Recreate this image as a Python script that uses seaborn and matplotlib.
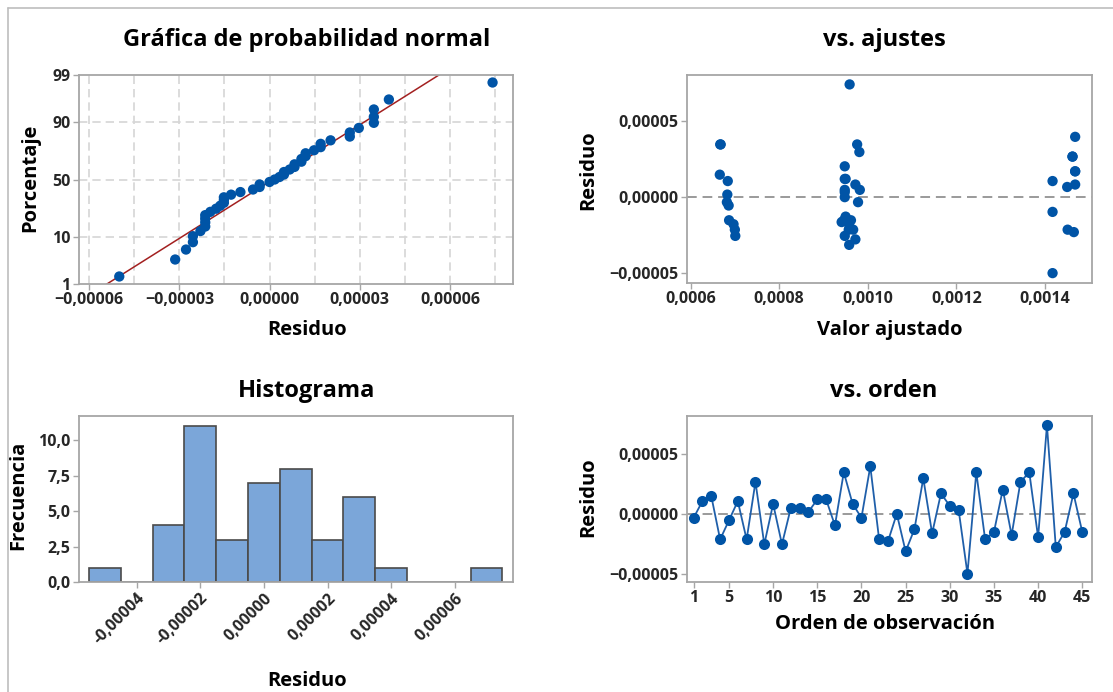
import numpy as np
import pandas as pd
import matplotlib
matplotlib.use("Agg")
import matplotlib.pyplot as plt
import seaborn as sns
from matplotlib.ticker import FuncFormatter, FixedLocator, MultipleLocator
from matplotlib.lines import Line2D
from statistics import NormalDist

# ---------------- data ----------------
observation = list(range(1, 46))
residuals = [
    -3.3e-6, 1.06e-5, 1.48e-5, -2.14e-5, -5.5e-6, 1.06e-5, -2.14e-5, 2.67e-5, -2.55e-5, 8.3e-6,
    -2.55e-5, 4.8e-6, 4.8e-6, 1.7e-6, 1.2e-5, 1.2e-5, -9.7e-6, 3.47e-5, 8.3e-6, -3.3e-6,
    3.97e-5, -2.14e-5, -2.3e-5, 0.0, -3.14e-5, -1.28e-5, 2.97e-5, -1.64e-5, 1.7e-5, 6.7e-6,
    3.3e-6, -5.0e-5, 3.47e-5, -2.14e-5, -1.52e-5, 2.03e-5, -1.78e-5, 2.67e-5, 3.47e-5, -1.97e-5,
    7.42e-5, -2.78e-5, -1.52e-5, 1.7e-5, -1.52e-5,
]
fitted = [
    0.000682, 0.000684, 0.000666, 0.000700, 0.000686, 0.001417, 0.000967, 0.001462, 0.000701, 0.000972,
    0.000948, 0.000948, 0.000982, 0.000683, 0.000948, 0.000950, 0.001417, 0.000667, 0.001468, 0.000978,
    0.001468, 0.000957, 0.001465, 0.000948, 0.000958, 0.000950, 0.000981, 0.000941, 0.001468, 0.001450,
    0.000948, 0.001417, 0.000668, 0.001451, 0.000962, 0.000948, 0.000697, 0.001462, 0.000976, 0.000959,
    0.000959, 0.000972, 0.000687, 0.001468, 0.000946,
]
prob_ticks = [1, 10, 50, 90, 99]
order_ticks = [1, 5, 10, 15, 20, 25, 30, 35, 40, 45]
hist_bin_width = 1e-5
hist_first_edge = -5.5e-5
hist_last_edge = 7.5e-5

df = pd.DataFrame({"obs": observation, "resid": residuals, "fit": fitted})

# ---------------- style ----------------
sns.set_theme(style="white")
plt.rcParams["font.family"] = ["Open Sans", "DejaVu Sans"]
plt.rcParams["font.weight"] = "bold"

BLUE = "#0054A6"
LINE_BLUE = "#1F5FAA"
RED = "#A32020"
SPINE = "#A6A6A6"
GRID = "#D6D6D6"
BAR = "#7BA6D9"
TICK_FS = 11.5
LAB_FS = 14.5
TITLE_FS = 17
MS = 55

W, H = 1113, 692
fig = plt.figure(figsize=(W / 100, H / 100), dpi=100)


def axes_px(left, top, right, bottom):
    return fig.add_axes([left / W, 1 - bottom / H, (right - left) / W, (bottom - top) / H])


def style_axes(ax):
    for s in ax.spines.values():
        s.set_color(SPINE)
        s.set_linewidth(1.3)
    ax.tick_params(axis="both", which="both", direction="out", color=SPINE, length=4, width=1,
                   labelsize=TICK_FS, pad=2, bottom=True, left=True)
    for lab in ax.get_xticklabels() + ax.get_yticklabels():
        lab.set_fontweight("bold")
    ax.set_xlabel("")
    ax.set_ylabel("")


def comma_fmt(decimals, minus="\u2212"):
    def f(v, pos):
        if abs(v) < 1e-12:
            v = 0.0
        s = f"{v:.{decimals}f}".replace(".", ",")
        return s.replace("-", minus)
    return FuncFormatter(f)


ax1 = axes_px(79, 75, 513, 284)
ax2 = axes_px(687, 75, 1092, 283)
ax3 = axes_px(79, 416, 513, 582)
ax4 = axes_px(687, 416, 1092, 582)

# ---------------- normal probability plot ----------------
nd = NormalDist()
n = len(residuals)
sorted_res = np.sort(np.array(residuals))
ranks = np.arange(1, n + 1)
zq = np.array([nd.inv_cdf((i - 0.3) / (n + 0.4)) for i in ranks])
mu = float(np.mean(residuals))
sd = float(np.std(residuals, ddof=1))
zline = np.linspace(-2.8, 2.8, 200)
line_df = pd.DataFrame({"x": mu + sd * zline, "z": zline})
sns.lineplot(data=line_df, x="x", y="z", ax=ax1, color=RED, lw=1.1, sort=False, zorder=2)
sns.scatterplot(x=sorted_res, y=zq, ax=ax1, color=BLUE, s=MS, edgecolor="none", zorder=3)
zt = [nd.inv_cdf(p / 100) for p in prob_ticks]
ax1.set_ylim(zt[0], zt[-1])
ax1.set_xlim(-6.34e-5, 8.1e-5)
ax1.yaxis.set_major_locator(FixedLocator(zt))
ax1.yaxis.set_major_formatter(FuncFormatter(lambda v, pos: str(prob_ticks[pos]) if pos is not None and pos < len(prob_ticks) else ""))
ax1.xaxis.set_major_locator(MultipleLocator(3e-5))
ax1.xaxis.set_minor_locator(MultipleLocator(1.5e-5))
ax1.xaxis.set_major_formatter(comma_fmt(5))
for zv in zt[1:-1]:
    ax1.axhline(zv, color=GRID, ls=(0, (5, 3)), lw=1.2, zorder=1)
for xv in np.arange(-6e-5, 8.0e-5, 1.5e-5):
    ax1.axvline(xv, color=GRID, ls=(0, (5, 3)), lw=1.2, zorder=1)
style_axes(ax1)
ax1.tick_params(axis="x", which="minor", length=0)

# ---------------- versus fits ----------------
sns.scatterplot(data=df, x="fit", y="resid", ax=ax2, color=BLUE, s=MS, edgecolor="none", zorder=3)
ax2.axhline(0, color="#9A9A9A", ls=(0, (5, 3)), lw=1.4, zorder=1)
ax2.set_xlim(0.000592, 0.001506)
ax2.set_ylim(-5.65e-5, 8.04e-5)
ax2.xaxis.set_major_locator(MultipleLocator(0.0002))
ax2.xaxis.set_major_formatter(comma_fmt(4))
ax2.yaxis.set_major_locator(MultipleLocator(5e-5))
ax2.yaxis.set_major_formatter(comma_fmt(5))
style_axes(ax2)

# ---------------- histogram ----------------
edges = np.arange(hist_first_edge, hist_last_edge + hist_bin_width / 2, hist_bin_width)
sns.histplot(x=residuals, bins=edges, ax=ax3, color=BAR, alpha=1.0, edgecolor="#4A4A4A", linewidth=1.2)
ax3.set_xlim(-5.81e-5, 7.83e-5)
ax3.set_ylim(0, 11.72)
ax3.xaxis.set_major_locator(FixedLocator([-4e-5, -2e-5, 0, 2e-5, 4e-5, 6e-5]))
ax3.xaxis.set_major_formatter(comma_fmt(5, minus="-"))
ax3.yaxis.set_major_locator(MultipleLocator(2.5))
ax3.yaxis.set_major_formatter(comma_fmt(1))
style_axes(ax3)
for lab in ax3.get_xticklabels():
    lab.set_rotation(45)
    lab.set_ha("right")
    lab.set_rotation_mode("anchor")

# ---------------- versus order ----------------
sns.lineplot(data=df, x="obs", y="resid", ax=ax4, color=LINE_BLUE, lw=1.3, marker="o",
             markersize=8, markeredgecolor="none", markerfacecolor=BLUE, zorder=3)
ax4.axhline(0, color="#9A9A9A", ls=(0, (5, 3)), lw=1.4, zorder=1)
ax4.set_xlim(0.25, 46.1)
ax4.set_ylim(-5.7e-5, 8.18e-5)
ax4.xaxis.set_major_locator(FixedLocator(order_ticks))
ax4.yaxis.set_major_locator(MultipleLocator(5e-5))
ax4.yaxis.set_major_formatter(comma_fmt(5))
style_axes(ax4)

# ---------------- texts ----------------
def ftext(x, y, s, size, rot=0):
    fig.text(x / W, 1 - y / H, s, ha="center", va="center", fontsize=size,
             fontweight="bold", rotation=rot, color="black")

ftext(307, 40, "Gráfica de probabilidad normal", TITLE_FS)
ftext(884, 40, "vs. ajustes", TITLE_FS)
ftext(307, 391, "Histograma", TITLE_FS)
ftext(884, 391, "vs. orden", TITLE_FS)
ftext(307, 330, "Residuo", LAB_FS)
ftext(890, 330, "Valor ajustado", LAB_FS)
ftext(307, 681, "Residuo", LAB_FS)
ftext(885, 624, "Orden de observación", LAB_FS)
ftext(30, 178, "Porcentaje", LAB_FS, 90)
ftext(588, 170, "Residuo", LAB_FS, 90)
ftext(18, 495, "Frecuencia", LAB_FS, 90)
ftext(588, 497, "Residuo", LAB_FS, 90)

# frame lines
fig.add_artist(Line2D([7.5 / W, 7.5 / W], [0, 1 - 7.5 / H], color="#BDBDBD", lw=1.2))
fig.add_artist(Line2D([7.5 / W, 1], [1 - 7.5 / H, 1 - 7.5 / H], color="#BDBDBD", lw=1.2))

fig.savefig("out.png", dpi=100)
